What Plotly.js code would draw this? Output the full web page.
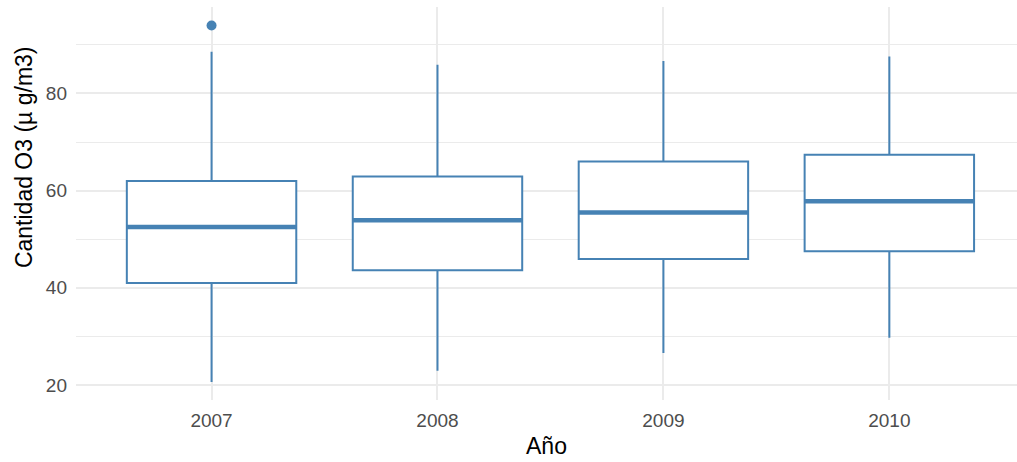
<!DOCTYPE html>
<html>
<head>
<meta charset="utf-8">
<script src="https://cdn.plot.ly/plotly-3.0.1.min.js"></script>
<style>
  html, body { margin: 0; padding: 0; background: #fff; }
  #chart { width: 1017px; height: 462px; }
</style>
</head>
<body>
<div id="chart"></div>
<script>
// Ozone (O3) concentration by year: box summaries
const years      = ['2007', '2008', '2009', '2010'];
const lowerFence = [20.6, 22.9, 26.6, 29.7];
const q1         = [41.0, 43.6, 45.9, 47.5];
const medians    = [52.5, 53.9, 55.5, 57.8];
const q3         = [62.0, 62.9, 66.0, 67.4];
const upperFence = [88.6, 85.9, 86.7, 87.6];
const outlierYear  = ['2007'];
const outlierValue = [94.0];

const steel = '#4682B4';
const boxWidth = 0.75;
const pos = years.map((_, i) => i);

// median bars drawn thicker on top of each box
const medX = [], medY = [];
pos.forEach((p, i) => {
  medX.push(p - boxWidth / 2, p + boxWidth / 2, null);
  medY.push(medians[i], medians[i], null);
});

const traces = [
  {
    type: 'box',
    x: pos,
    q1: q1,
    median: medians,
    q3: q3,
    lowerfence: lowerFence,
    upperfence: upperFence,
    width: boxWidth,
    whiskerwidth: 0,
    boxpoints: false,
    fillcolor: 'white',
    line: { color: steel, width: 2 },
    hoverinfo: 'skip',
    showlegend: false
  },
  {
    type: 'scatter',
    mode: 'lines',
    x: medX,
    y: medY,
    line: { color: steel, width: 4.5 },
    hoverinfo: 'skip',
    showlegend: false
  },
  {
    type: 'scatter',
    mode: 'markers',
    x: outlierYear.map(y => years.indexOf(y)),
    y: outlierValue,
    marker: { color: steel, size: 10 },
    showlegend: false
  }
];

const layout = {
  width: 1017,
  height: 462,
  paper_bgcolor: 'white',
  plot_bgcolor: 'white',
  margin: { l: 76, r: 0, t: 7, b: 62 },
  font: { family: 'Liberation Sans, Arial, sans-serif' },
  showlegend: false,
  xaxis: {
    range: [-0.6, 3.565],
    tickvals: pos,
    ticktext: years,
    showgrid: true,
    gridcolor: '#EBEBEB',
    gridwidth: 2,
    zeroline: false,
    showline: false,
    ticks: '',
    ticklabelstandoff: 7,
    tickfont: { size: 19, color: '#4D4D4D' },
    title: { text: 'Año', font: { size: 23, color: '#000' }, standoff: 7 }
  },
  yaxis: {
    range: [16.9, 97.8],
    tickvals: [20, 40, 60, 80],
    showgrid: true,
    gridcolor: '#EBEBEB',
    gridwidth: 2,
    minor: { tickvals: [30, 50, 70, 90], showgrid: true, gridcolor: '#EBEBEB', gridwidth: 1 },
    zeroline: false,
    showline: false,
    ticks: '',
    ticklabelstandoff: 8,
    tickfont: { size: 19, color: '#4D4D4D' }
  },
  annotations: [{
    text: 'Cantidad O3 (µ g/m3)',
    textangle: -90,
    xref: 'paper', yref: 'paper',
    x: -0.0553, y: 0.618,
    xanchor: 'center', yanchor: 'middle',
    showarrow: false,
    font: { size: 23, color: '#000' }
  }]
};

Plotly.newPlot('chart', traces, layout, { displayModeBar: false, staticPlot: true });
</script>
</body>
</html>
